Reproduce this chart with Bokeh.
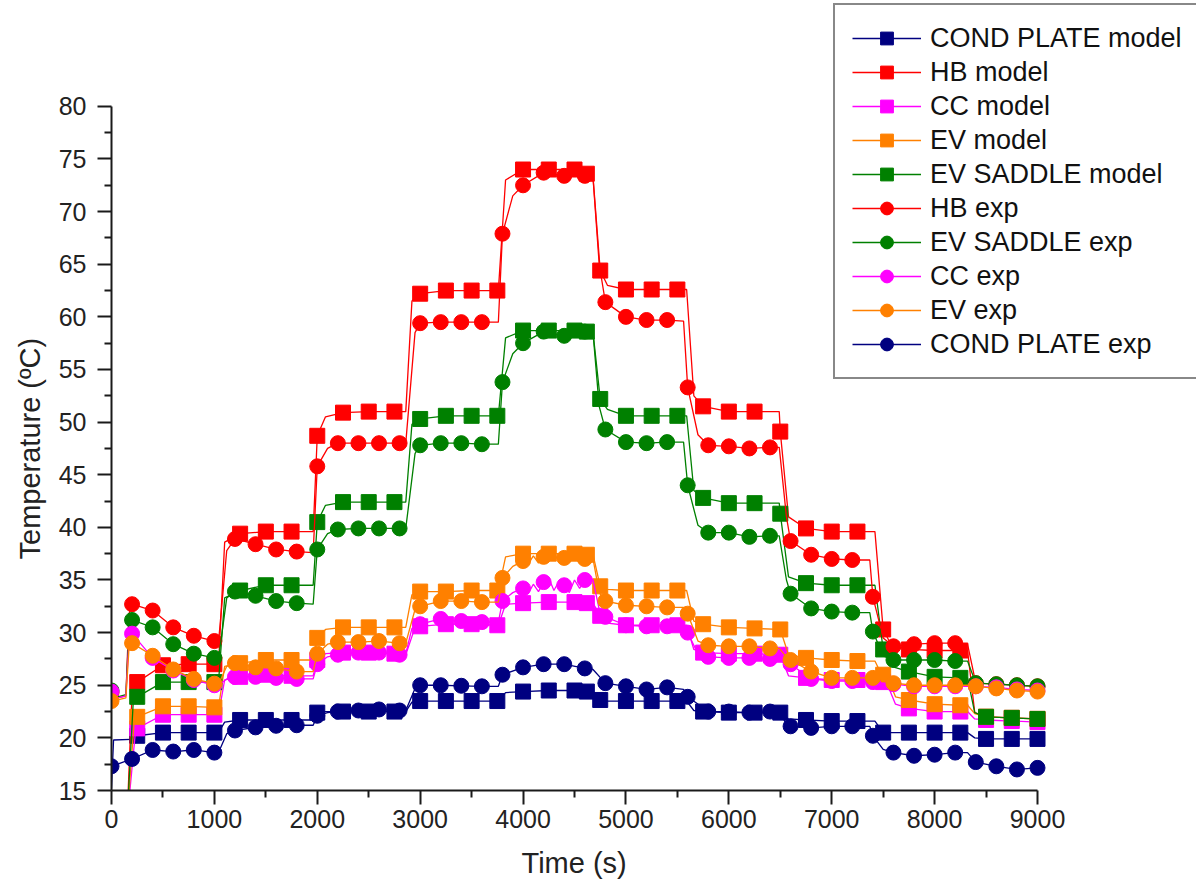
from bokeh.plotting import figure
from bokeh.models import FixedTicker, Legend, LegendItem, Range1d, Title
from bokeh.embed import file_html
from bokeh.resources import INLINE

# ---------------- data ----------------
model_t = [250, 500, 750, 1000, 1250, 1500, 1750, 2000, 2250, 2500, 2750,
           3000, 3250, 3500, 3750, 4000, 4250, 4500, 4620, 4750, 5000, 5250,
           5500, 5750, 6000, 6250, 6500, 6750, 7000, 7250, 7500, 7750, 8000,
           8250, 8500, 8750, 9000]
exp_t = [0, 200, 400, 600, 800, 1000, 1200, 1400, 1600, 1800, 2000, 2200,
         2400, 2600, 2800, 3000, 3200, 3400, 3600, 3800, 4000, 4200, 4400,
         4600, 4800, 5000, 5200, 5400, 5600, 5800, 6000, 6200, 6400, 6600,
         6800, 7000, 7200, 7400, 7600, 7800, 8000, 8200, 8400, 8600, 8800, 9000]

cond_model = [20.2, 20.5, 20.5, 20.5, 21.7, 21.7, 21.7, 22.4, 22.5, 22.5, 22.5,
              23.5, 23.5, 23.5, 23.5, 24.4, 24.5, 24.5, 24.4, 23.6, 23.5, 23.5,
              23.5, 22.5, 22.4, 22.4, 22.4, 21.7, 21.6, 21.6, 20.5, 20.5, 20.5,
              20.5, 19.9, 19.9, 19.9]
hb_model = [25.3, 26.9, 27.0, 27.0, 39.4, 39.6, 39.6, 48.7, 50.9, 51.0, 51.0,
            62.2, 62.5, 62.5, 62.5, 74.0, 74.0, 74.0, 73.6, 64.4, 62.6, 62.6,
            62.6, 51.5, 51.0, 51.0, 49.1, 39.9, 39.6, 39.6, 30.3, 28.4, 28.3,
            28.3, 22.0, 21.9, 21.8]
cc_model = [20.9, 22.2, 22.2, 22.2, 25.8, 26.0, 25.9, 27.4, 28.1, 28.1, 28.0,
            30.6, 30.8, 30.8, 30.7, 32.8, 32.9, 32.9, 32.8, 31.6, 30.7, 30.7,
            30.7, 28.1, 28.0, 28.0, 27.9, 25.7, 25.5, 25.5, 25.3, 22.8, 22.5,
            22.5, 21.7, 21.6, 21.5]
ev_model = [22.0, 23.0, 23.0, 22.9, 27.1, 27.4, 27.4, 29.5, 30.5, 30.5, 30.5,
            33.9, 33.9, 34.0, 34.0, 37.5, 37.5, 37.5, 37.4, 34.4, 34.0, 34.0,
            34.0, 30.8, 30.5, 30.4, 30.3, 27.6, 27.4, 27.3, 26.0, 23.6, 23.2,
            23.1, 22.0, 21.9, 21.8]
evs_model = [23.9, 25.3, 25.3, 25.3, 34.0, 34.5, 34.5, 40.5, 42.4, 42.4, 42.4,
             50.3, 50.6, 50.6, 50.6, 58.7, 58.7, 58.7, 58.6, 52.2, 50.6, 50.6,
             50.6, 42.8, 42.3, 42.3, 41.3, 34.7, 34.5, 34.5, 28.4, 26.3, 25.8,
             25.7, 22.0, 21.9, 21.8]

hb_exp = [24.3, 32.7, 32.1, 30.5, 29.7, 29.2, 38.9, 38.4, 37.9, 37.7,
          45.8, 48.0, 48.0, 48.0, 48.0, 59.4, 59.5, 59.5, 59.5,
          67.9, 72.5, 73.7, 73.4, 73.4, 61.4, 60.0, 59.7, 59.7,
          53.3, 47.8, 47.7, 47.5, 47.6, 38.7, 37.4, 37.0, 36.9,
          33.4, 28.7, 28.9, 29.0, 29.0, 25.2, 25.1, 25.0, 24.9]
evs_exp = [24.5, 31.2, 30.5, 28.9, 28.0, 27.6, 33.9, 33.5, 33.0, 32.8,
           37.9, 39.8, 39.9, 39.9, 39.9, 47.8, 48.0, 48.0, 47.9,
           53.8, 57.5, 58.6, 58.2, 58.6, 49.3, 48.1, 48.0, 48.1,
           44.0, 39.5, 39.5, 39.1, 39.2, 33.7, 32.3, 32.0, 31.9,
           30.1, 27.4, 27.4, 27.4, 27.3, 25.2, 25.1, 25.0, 24.9]
cc_exp = [24.4, 29.9, 27.6, 26.4, 25.5, 25.0, 25.8, 25.8, 25.7, 25.6,
          27.0, 27.9, 28.1, 28.1, 27.9, 30.8, 31.3, 31.1, 31.0,
          33.0, 34.2, 34.8, 34.5, 35.0, 31.5, 30.7, 30.6, 30.6,
          30.0, 27.7, 27.6, 27.6, 27.5, 27.0, 25.6, 25.4, 25.4,
          25.3, 25.1, 24.9, 24.9, 24.9, 24.9, 24.8, 24.6, 24.5]
ev_exp = [23.5, 29.0, 27.8, 26.5, 25.6, 25.15, 27.1, 26.7, 26.6, 26.3,
          28.0, 29.1, 29.1, 29.2, 29.0, 32.5, 33.0, 33.0, 32.9,
          35.2, 36.8, 37.2, 37.1, 37.0, 33.0, 32.6, 32.5, 32.4,
          31.8, 28.8, 28.7, 28.7, 28.5, 27.4, 26.3, 25.7, 25.7,
          25.7, 25.2, 25.0, 25.0, 25.0, 24.9, 24.7, 24.5, 24.4]
cond_exp = [17.3, 18.0, 18.85, 18.7, 18.85, 18.6, 20.7, 21.0, 21.15, 21.2,
            22.1, 22.5, 22.6, 22.7, 22.6, 25.0, 25.0, 24.95, 24.9,
            26.0, 26.7, 27.0, 27.0, 26.6, 25.2, 24.9, 24.6, 24.8,
            23.9, 22.5, 22.5, 22.4, 22.5, 21.1, 20.95, 21.1, 21.1,
            20.2, 18.6, 18.3, 18.4, 18.6, 17.7, 17.3, 17.0, 17.15]

# extra line points between samples (step corners)
cond_model_k = [(0, 15.2), (20, 19.8), (190, 19.85), (1040, 20.5), (1100, 21.5),
                (1960, 21.7), (2080, 22.5), (2860, 22.5), (2920, 23.4),
                (3760, 23.5), (3830, 24.3), (4680, 24.4), (4820, 23.5),
                (5590, 23.5), (5660, 22.6), (6490, 22.4), (6580, 21.8),
                (7420, 21.6), (7580, 20.5), (8320, 20.5), (8390, 20.0)]
hb_model_k = [(150, 12.0), (200, 24.3), (1040, 27.0), (1100, 38.6),
              (1960, 39.6), (2080, 50.5), (2860, 51.0), (2920, 61.5),
              (3760, 62.5), (3830, 73.0), (4680, 73.3), (4820, 63.0),
              (5590, 62.6), (5660, 52.5), (6490, 51.0), (6580, 41.0),
              (7420, 39.6), (7580, 28.8), (8320, 28.3), (8390, 22.4)]
cc_model_k = [(150, 12.0), (230, 20.3), (1040, 22.2), (1100, 25.5),
              (1960, 25.9), (2080, 28.0), (2860, 28.0), (2920, 30.4),
              (3760, 30.7), (3830, 32.7), (4680, 32.8), (4820, 30.9),
              (5590, 30.7), (5660, 28.4), (6490, 27.9), (6580, 25.9),
              (7420, 25.5), (7540, 25.1), (7620, 23.2), (8320, 22.5),
              (8390, 21.8)]
ev_model_k = [(150, 12.0), (220, 21.5), (1040, 22.9), (1100, 26.8),
              (1960, 27.4), (2080, 30.3), (2860, 30.5), (2920, 33.6),
              (3760, 34.0), (3830, 37.2), (4680, 37.4), (4820, 34.1),
              (5590, 34.0), (5660, 31.1), (6490, 30.3), (6580, 27.9),
              (7420, 27.3), (7480, 26.1), (7540, 25.8), (7620, 23.9),
              (8320, 23.1), (8390, 22.3)]
evs_model_k = [(150, 12.0), (210, 23.2), (1040, 25.3), (1100, 33.3),
               (1960, 34.5), (2080, 42.1), (2860, 42.4), (2920, 49.8),
               (3760, 50.6), (3830, 58.0), (4680, 58.5), (4820, 51.2),
               (5590, 50.6), (5660, 43.5), (6490, 42.3), (6580, 35.3),
               (7420, 34.5), (7580, 26.8), (8320, 25.7), (8390, 22.4)]

hb_exp_k = [(60, 23.8), (140, 24.0), (170, 31.8), (1040, 29.1), (1120, 37.8),
            (1960, 37.6), (2100, 47.5), (2860, 48.0), (2950, 58.5),
            (3760, 59.5), (3900, 71.5), (4680, 73.2), (4740, 65.0),
            (5560, 59.6), (5700, 48.8), (6490, 47.6), (6560, 41.0),
            (7370, 36.9), (7500, 29.5), (8320, 28.9)]
evs_exp_k = [(60, 23.9), (140, 24.1), (170, 30.5), (1040, 27.5), (1120, 33.3),
             (1960, 32.7), (2100, 39.4), (2860, 39.9), (2950, 47.0),
             (3760, 47.9), (3900, 56.5), (4680, 58.5), (4740, 51.5),
             (5560, 48.1), (5700, 40.2), (6490, 39.2), (6560, 35.0),
             (7370, 31.9), (7500, 27.8), (8320, 27.3)]
cc_exp_k = [(60, 23.8), (140, 24.0), (170, 29.3), (1040, 25.0), (1120, 25.6),
            (1960, 25.6), (2100, 27.7), (2860, 27.9), (2950, 30.5),
            (3760, 31.0), (3900, 33.8), (4050, 33.7), (4100, 34.6),
            (4150, 33.9), (4250, 35.2), (4300, 34.0), (4350, 34.9),
            (4450, 33.8), (4500, 35.0), (4550, 34.2), (4650, 35.3),
            (4680, 35.0), (4740, 32.2), (5560, 30.6), (5700, 28.0),
            (6490, 27.5), (6560, 26.9), (7370, 25.3), (8320, 24.9)]
ev_exp_k = [(60, 23.6), (140, 23.8), (170, 28.5), (1040, 25.1), (1120, 26.8),
            (1960, 26.3), (2100, 28.9), (2860, 29.0), (2950, 32.2),
            (3760, 32.9), (3900, 36.3), (4050, 36.5), (4100, 37.3),
            (4150, 36.6), (4250, 37.5), (4300, 36.9), (4350, 37.4),
            (4450, 36.7), (4500, 37.3), (4550, 36.8), (4650, 37.3),
            (4680, 37.0), (4740, 33.8), (5560, 32.4), (5700, 29.2),
            (6490, 28.5), (6560, 27.7), (7370, 25.7), (8320, 25.0)]
cond_exp_k = [(1040, 18.6), (1120, 20.4), (1960, 21.2), (2100, 22.4),
              (2860, 22.6), (2950, 24.7), (3760, 24.9), (4680, 26.5),
              (5560, 24.6), (6490, 22.5), (6560, 21.3), (7370, 21.1),
              (7500, 18.9), (8320, 18.6)]

series = [
    ("COND PLATE model", "#000080", "square", model_t, cond_model, cond_model_k),
    ("HB model", "#FF0000", "square", model_t, hb_model, hb_model_k),
    ("CC model", "#FF00FF", "square", model_t, cc_model, cc_model_k),
    ("EV model", "#FF8000", "square", model_t, ev_model, ev_model_k),
    ("EV SADDLE model", "#008000", "square", model_t, evs_model, evs_model_k),
    ("HB exp", "#FF0000", "circle", exp_t, hb_exp, hb_exp_k),
    ("EV SADDLE exp", "#008000", "circle", exp_t, evs_exp, evs_exp_k),
    ("CC exp", "#FF00FF", "circle", exp_t, cc_exp, cc_exp_k),
    ("EV exp", "#FF8000", "circle", exp_t, ev_exp, ev_exp_k),
    ("COND PLATE exp", "#000080", "circle", exp_t, cond_exp, cond_exp_k),
]

FONT = "Liberation Sans"
W, H = 1196, 892
LEFT, BOTTOM = 111, 101         # space for the axes
AX_W, AX_H = 926, 685           # pixels spanned by 0..9000 and 15..80
X0, X1, Y0, Y1 = 0, 9000, 15, 80
frame_w = W - LEFT
frame_h = H - BOTTOM
x_end = X0 + (X1 - X0) * frame_w / AX_W
y_end = Y0 + (Y1 - Y0) * frame_h / AX_H

p = figure(width=W, height=H, output_backend="svg", toolbar_location=None,
           x_range=Range1d(X0, x_end), y_range=Range1d(Y0, y_end),
           min_border_left=LEFT, min_border_right=0, min_border_top=0,
           min_border_bottom=BOTTOM)
p.outline_line_color = None
p.grid.visible = False
p.background_fill_color = "white"
p.border_fill_color = "white"

p.xaxis.ticker = FixedTicker(ticks=[0, 1000, 2000, 3000, 4000, 5000, 6000, 7000, 8000, 9000],
                             minor_ticks=[500, 1500, 2500, 3500, 4500, 5500, 6500, 7500, 8500])
p.yaxis.ticker = FixedTicker(ticks=[15, 20, 25, 30, 35, 40, 45, 50, 55, 60, 65, 70, 75, 80],
                             minor_ticks=[17.5, 22.5, 27.5, 32.5, 37.5, 42.5, 47.5, 52.5,
                                          57.5, 62.5, 67.5, 72.5, 77.5])
p.xaxis.bounds = (X0, X1)
p.yaxis.bounds = (Y0, Y1)
for ax in (p.xaxis, p.yaxis):
    ax.axis_line_width = 2
    ax.axis_line_color = "#1a1a1a"
    ax.major_tick_line_width = 2
    ax.minor_tick_line_width = 2
    ax.major_tick_line_color = "#1a1a1a"
    ax.minor_tick_line_color = "#1a1a1a"
    ax.major_tick_out = 14
    ax.major_tick_in = 0
    ax.minor_tick_out = 7
    ax.minor_tick_in = 0
    ax.major_label_text_font = FONT
    ax.major_label_text_font_size = "25px"
    ax.major_label_text_color = "#222222"
p.xaxis.major_label_standoff = 5
p.yaxis.major_label_standoff = 11

# axis titles placed along the drawn axis span
xt = Title(text="Time (s)", align="left", text_font=FONT,
           text_font_size="29px", text_font_style="normal",
           text_color="#222222", standoff=28, offset=410)
yt = Title(text="Temperature (ºC)", align="left", text_font=FONT,
           text_font_size="29px", text_font_style="normal",
           text_color="#222222", standoff=20, offset=231)
p.add_layout(xt, "below")
p.add_layout(yt, "left")

items = []
for name, color, marker, tt, vv, knots in series:
    pts = sorted(list(zip(tt, vv)) + knots)
    lx = [a for a, b in pts]
    ly = [b for a, b in pts]
    lr = p.line(lx, ly, line_color=color, line_width=1.3)
    sr = p.scatter(tt, vv, marker=marker, size=15, fill_color=color,
                   line_color=color, line_width=1)
    items.append(LegendItem(label=name, renderers=[lr, sr]))

LEG_TOP, LEG_LEFT = 8, 833
LEG_H = 17 * 2 + 10 * 32 + 9 * 2
legend = Legend(items=items, location=(LEG_LEFT - LEFT, frame_h - LEG_TOP - LEG_H))
legend.border_line_color = "#111111"
legend.border_line_width = 2
legend.background_fill_color = "white"
legend.background_fill_alpha = 1.0
legend.label_text_font = FONT
legend.label_text_font_size = "27px"
legend.label_text_color = "#111111"
legend.glyph_width = 69
legend.glyph_height = 32
legend.label_height = 32
legend.spacing = 2
legend.padding = 17
legend.margin = 0
legend.label_standoff = 9
p.add_layout(legend)

open("out.html", "w").write(file_html(p, INLINE))
